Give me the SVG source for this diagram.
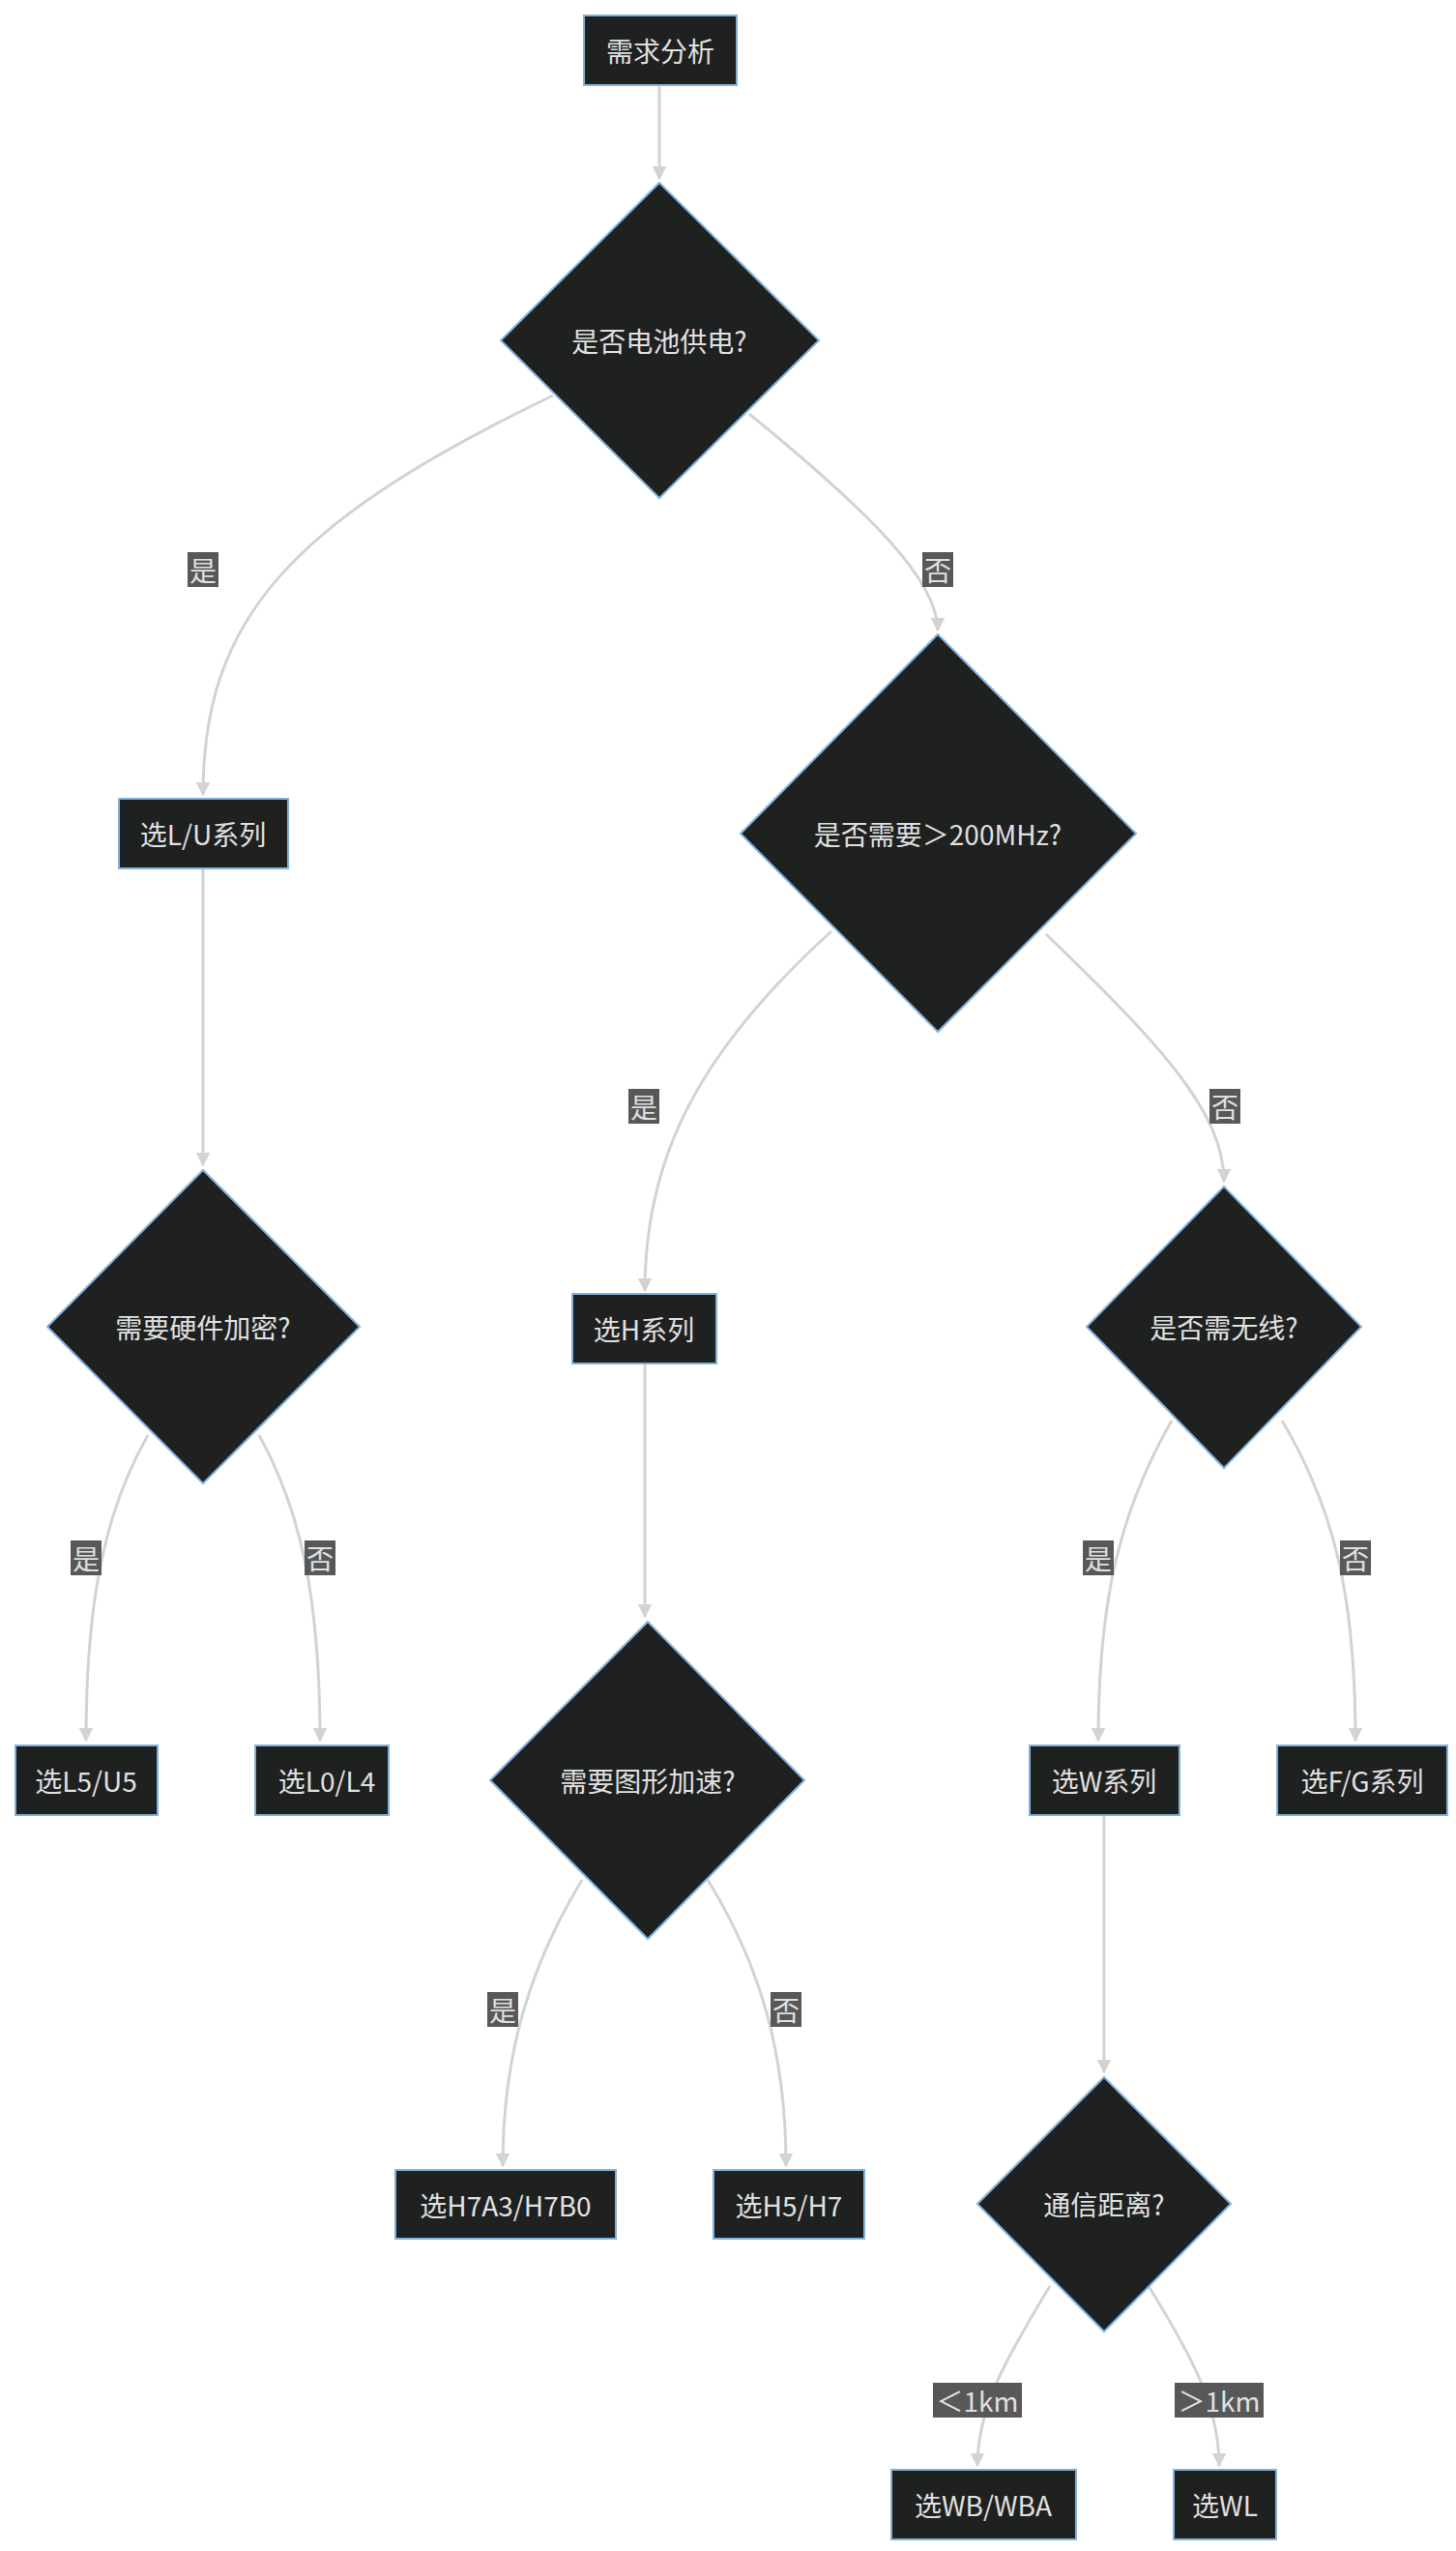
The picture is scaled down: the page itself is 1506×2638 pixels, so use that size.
<svg xmlns="http://www.w3.org/2000/svg" width="1506" height="2638" viewBox="0 0 1506 2638">
<defs>
<marker id="ah" viewBox="0 0 10 10" refX="9" refY="5" markerWidth="5" markerHeight="5" orient="auto" markerUnits="strokeWidth"><path d="M0,0 L10,5 L0,10 z" fill="#d3d3d3"/></marker>
<style>
.n{fill:#1f2020;stroke:#81b1db;stroke-width:2}
.t{font-family:"Noto Sans CJK SC","DejaVu Sans",sans-serif;font-size:28px;fill:#e0e0e0;text-anchor:middle;dominant-baseline:central}
.e{fill:none;stroke:#d3d3d3;stroke-width:3;marker-end:url(#ah)}
.lb{fill:#585858}
.lt{font-family:"Noto Sans CJK SC","DejaVu Sans",sans-serif;font-size:28px;fill:#e0e0e0;text-anchor:middle;dominant-baseline:central}
</style>
</defs>
<rect width="1506" height="2638" fill="#ffffff"/>
<g id="edges">
<path class="e" d="M682,88 L682,185"/>
<path class="e" d="M572,409 C300,540 210,640 210,822"/>
<path class="e" d="M775,428 C900,530 970,600 970,652"/>
<path class="e" d="M210,899 L210,1205"/>
<path class="e" d="M860,963 C720,1090 667,1200 667,1335"/>
<path class="e" d="M1082,966 C1200,1080 1266,1150 1266,1222"/>
<path class="e" d="M153,1484 C110,1560 89,1650 89,1800"/>
<path class="e" d="M268,1484 C310,1560 331,1650 331,1800"/>
<path class="e" d="M667,1410 L667,1672"/>
<path class="e" d="M1212,1469 C1160,1560 1136,1650 1136,1800"/>
<path class="e" d="M1326,1469 C1380,1560 1402,1650 1402,1800"/>
<path class="e" d="M602,1944 C550,2030 520,2120 520,2240"/>
<path class="e" d="M732,1944 C785,2030 813,2120 813,2240"/>
<path class="e" d="M1142,1877 L1142,2143"/>
<path class="e" d="M1086,2364 C1040,2440 1011,2490 1011,2550"/>
<path class="e" d="M1188,2364 C1235,2440 1261,2490 1261,2550"/>
</g>
<g id="labels">
<rect class="lb" x="194" y="571" width="32" height="36"/><text class="lt" x="210" y="589">是</text>
<rect class="lb" x="954" y="571" width="32" height="36"/><text class="lt" x="970" y="589">否</text>
<rect class="lb" x="650" y="1126" width="32" height="36"/><text class="lt" x="666" y="1144">是</text>
<rect class="lb" x="1251" y="1126" width="32" height="36"/><text class="lt" x="1267" y="1144">否</text>
<rect class="lb" x="73" y="1593" width="32" height="36"/><text class="lt" x="89" y="1611">是</text>
<rect class="lb" x="315" y="1593" width="32" height="36"/><text class="lt" x="331" y="1611">否</text>
<rect class="lb" x="1120" y="1593" width="32" height="36"/><text class="lt" x="1136" y="1611">是</text>
<rect class="lb" x="1386" y="1593" width="32" height="36"/><text class="lt" x="1402" y="1611">否</text>
<rect class="lb" x="504" y="2060" width="32" height="36"/><text class="lt" x="520" y="2078">是</text>
<rect class="lb" x="797" y="2060" width="32" height="36"/><text class="lt" x="813" y="2078">否</text>
<rect class="lb" x="965" y="2464" width="92" height="36"/><text class="lt" x="1011" y="2482">＜1km</text>
<rect class="lb" x="1215" y="2464" width="92" height="36"/><text class="lt" x="1261" y="2482">＞1km</text>
</g>
<g id="n_start"><rect class="n" x="604" y="16" width="158" height="72"/><text class="t" x="683" y="52">需求分析</text></g>
<g id="n_battery"><polygon class="n" points="682,189 847,352 682,515 518,352"/><text class="t" x="682" y="352">是否电池供电?</text></g>
<g id="n_lu"><rect class="n" x="123" y="826" width="175" height="72"/><text class="t" x="210" y="862">选L/U系列</text></g>
<g id="n_freq"><polygon class="n" points="970,656 1175,862 970,1067 766,862"/><text class="t" x="970" y="862">是否需要＞200MHz?</text></g>
<g id="n_crypto"><polygon class="n" points="210,1210 372,1372 210,1534 49,1372"/><text class="t" x="210" y="1372">需要硬件加密?</text></g>
<g id="n_h"><rect class="n" x="592" y="1338" width="149" height="72"/><text class="t" x="666" y="1374">选H系列</text></g>
<g id="n_wireless"><polygon class="n" points="1266,1227 1408,1372 1266,1518 1124,1372"/><text class="t" x="1266" y="1372">是否需无线?</text></g>
<g id="n_l5"><rect class="n" x="16" y="1805" width="147" height="72"/><text class="t" x="89" y="1841">选L5/U5</text></g>
<g id="n_l0"><rect class="n" x="264" y="1805" width="138" height="72"/><text class="t" x="338" y="1841">选L0/L4</text></g>
<g id="n_gfx"><polygon class="n" points="670,1677 832,1841 670,2005 507,1841"/><text class="t" x="670" y="1841">需要图形加速?</text></g>
<g id="n_w"><rect class="n" x="1065" y="1805" width="155" height="72"/><text class="t" x="1142" y="1841">选W系列</text></g>
<g id="n_fg"><rect class="n" x="1321" y="1805" width="176" height="72"/><text class="t" x="1409" y="1841">选F/G系列</text></g>
<g id="n_h7a3"><rect class="n" x="409" y="2244" width="228" height="71"/><text class="t" x="523" y="2280">选H7A3/H7B0</text></g>
<g id="n_h5"><rect class="n" x="738" y="2244" width="156" height="71"/><text class="t" x="816" y="2280">选H5/H7</text></g>
<g id="n_dist"><polygon class="n" points="1142,2148 1273,2279 1142,2411 1011,2279"/><text class="t" x="1142" y="2279">通信距离?</text></g>
<g id="n_wb"><rect class="n" x="922" y="2554" width="191" height="72"/><text class="t" x="1017" y="2590">选WB/WBA</text></g>
<g id="n_wl"><rect class="n" x="1214" y="2554" width="106" height="72"/><text class="t" x="1267" y="2590">选WL</text></g>
</svg>
